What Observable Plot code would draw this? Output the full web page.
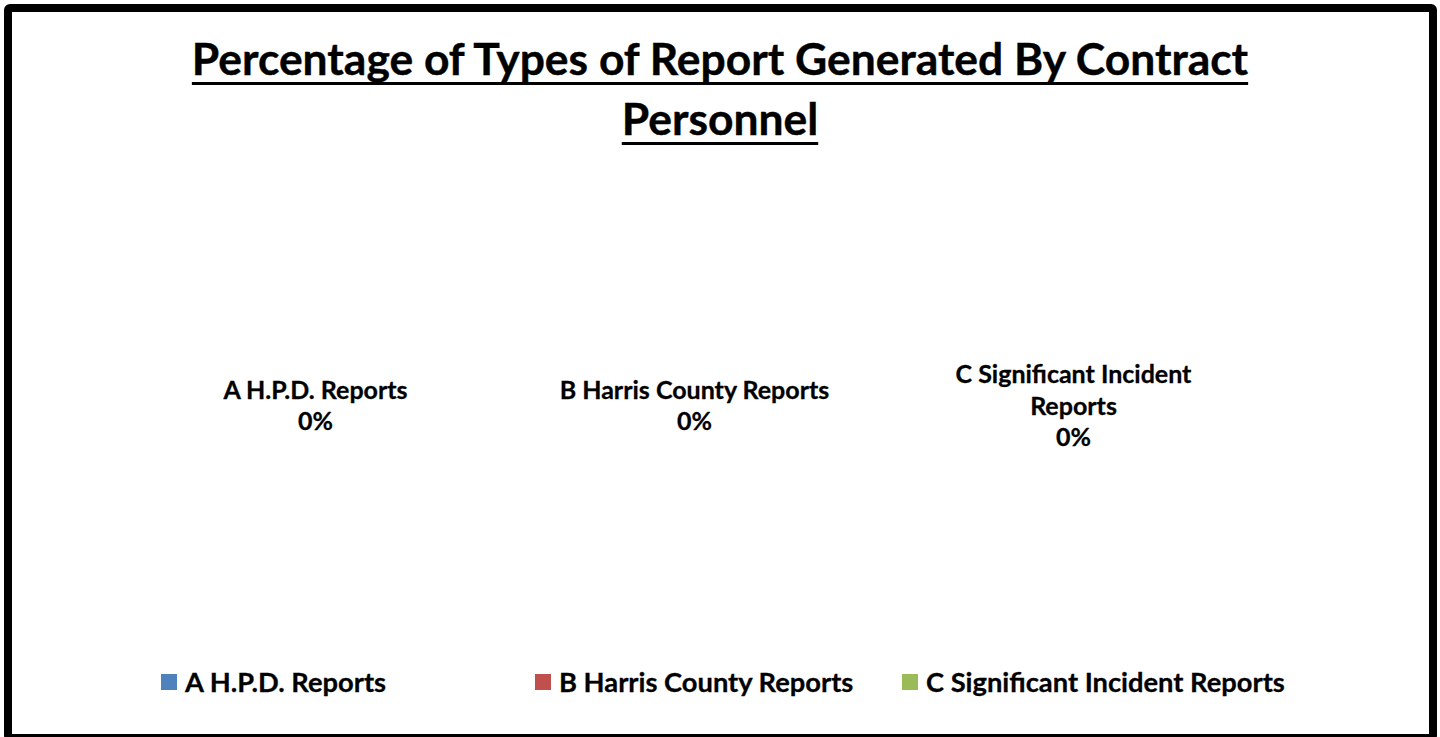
<!DOCTYPE html>
<html>
<head>
<meta charset="utf-8">
<script src="https://cdn.jsdelivr.net/npm/d3@7"></script>
<script src="https://cdn.jsdelivr.net/npm/@observablehq/plot@0.6"></script>
<style>
  html, body { margin: 0; padding: 0; background: #fff; width: 1440px; height: 737px; overflow: hidden; }
  #frame { position: absolute; left: 4px; top: 4px; width: 1417px; height: 722px; border: 8px solid #000; border-radius: 6px; box-sizing: content-box; }
  #title { position: absolute; left: 170px; top: 28px; width: 1100px; text-align: center;
    font-family: Lato, "Noto Sans", sans-serif; font-weight: 700; font-size: 44.4px; line-height: 60px; color: #000;
    text-decoration: underline; text-decoration-thickness: 3px; text-underline-offset: 7px;
    text-decoration-skip-ink: none;
    -webkit-text-stroke: 0.4px #000; }
  #plot { position: absolute; left: 0; top: 154px; }
  #legend { position: absolute; left: 161px; top: 665px; }
  #legend .lg-swatches { margin: 0; min-height: 32px; font-family: Lato, "Noto Sans", sans-serif; font-weight: 700; font-size: 27.3px; color: #000; -webkit-text-stroke: 0.3px #000; }
  #legend .lg-swatch { margin-right: 0; }
  #legend .lg-swatch:nth-of-type(1) { width: 374px; }
  #legend .lg-swatch:nth-of-type(2) { width: 367px; }
  #legend .lg-swatch > svg { margin-right: 8px; }
</style>
</head>
<body>
<div id="frame"></div>
<div id="title">Percentage of Types of Report Generated By Contract Personnel</div>
<div id="plot"></div>
<div id="legend"></div>
<script>
const categories = ["A H.P.D. Reports", "B Harris County Reports", "C Significant Incident Reports"];
const values = [0, 0, 0];
const colors = ["#4F81BD", "#C0504D", "#9BBB59"];

const total = d3.sum(values);
const data = categories.map((name, i) => ({
  name,
  value: values[i],
  pct: total ? values[i] / total : 0
}));
const fmt = d3.format(".0%");

const chart = Plot.plot({
  width: 1440,
  height: 500,
  margin: 0,
  x: { type: "point", domain: categories, range: [315, 1073], padding: 0, axis: null },
  style: { fontFamily: "Lato, 'Noto Sans', sans-serif", background: "transparent" },
  marks: [
    Plot.text(data, {
      x: "name",
      text: d => `${d.name}\n${fmt(d.pct)}`,
      frameAnchor: "middle",
      lineAnchor: "middle",
      lineWidth: 13,
      lineHeight: 1.26,
      fontSize: 25,
      fontWeight: "bold",
      fill: "#000",
      stroke: "#000",
      strokeWidth: 0.3
    })
  ]
});
document.getElementById("plot").appendChild(chart);

const legend = Plot.legend({
  color: { type: "ordinal", domain: categories, range: colors },
  legend: "swatches",
  swatchSize: 16,
  className: "lg"
});
document.getElementById("legend").appendChild(legend);
</script>
</body>
</html>
